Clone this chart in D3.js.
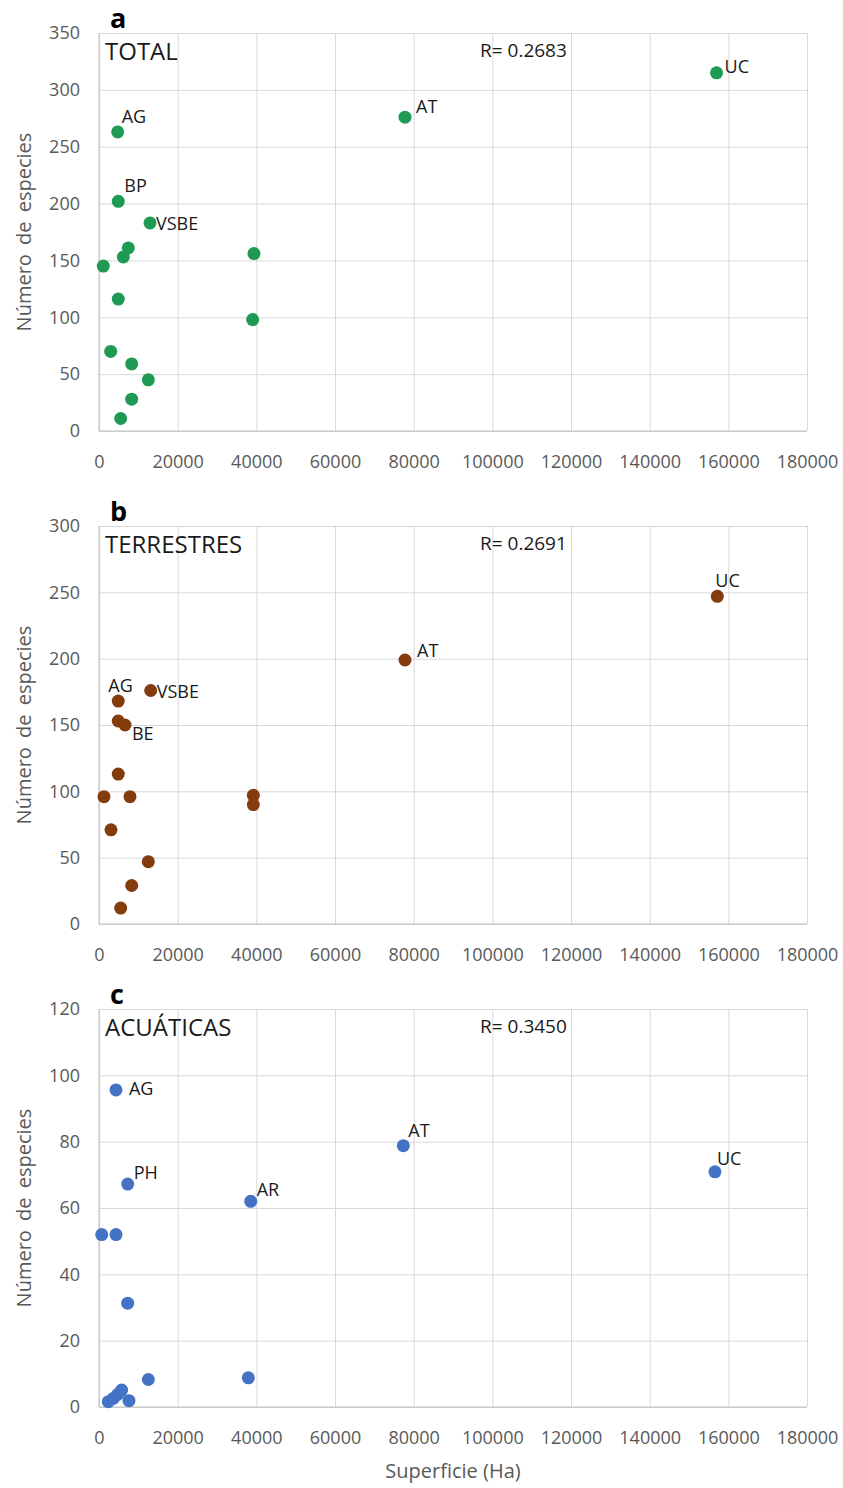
<!DOCTYPE html>
<html lang="es">
<head>
  <meta charset="UTF-8">
  <title>Superficie vs Número de especies</title>
  <script src="https://cdn.jsdelivr.net/npm/d3@7/dist/d3.min.js"></script>
<style>
body{
  margin: 0;
  background: #fff;
}
svg text{
  font-family: "Open Sans", "Noto Sans", sans-serif;
}
.tick text{
  fill: #595959;
  font-size: 18px;
}
.grid line{
  stroke: #d9d9d9;
  stroke-width: 1;
}
.grid .domain{
  display: none;
}
</style>
</head>
<body>
  <div id="grafico"></div>

  <script>
    // ---- datos ----
    var xTicks = [0, 20000, 40000, 60000, 80000, 100000, 120000, 140000, 160000, 180000];

    // a) TOTAL
    var totalSup = [4750, 4900, 12970, 7450, 6180, 1090, 39400, 4900, 39070, 2970, 8310, 12540, 8310, 5510, 77800, 157000];
    var totalEsp = [263, 202, 183, 161, 153, 145, 156, 116, 98, 70, 59, 45, 28, 11, 276, 315];
    var totalEtq = ["AG", "BP", "VSBE", "", "", "", "", "", "", "", "", "", "", "", "AT", "UC"];
    var totalYTicks = [0, 50, 100, 150, 200, 250, 300, 350];

    // b) TERRESTRES
    var terrSup = [77800, 157200, 4900, 13140, 4900, 6610, 4900, 1270, 7880, 39240, 39240, 3050, 12540, 8310, 5510];
    var terrEsp = [199, 247, 168, 176, 153, 150, 113, 96, 96, 97, 90, 71, 47, 29, 12];
    var terrEtq = ["AT", "UC", "AG", "VSBE", "", "BE", "", "", "", "", "", "", "", "", ""];
    var terrYTicks = [0, 50, 100, 150, 200, 250, 300];

    // c) ACUÁTICAS
    var acuaSup = [4320, 77370, 156600, 7290, 38570, 690, 4320, 7290, 12540, 37960, 2370, 3640, 4750, 5760, 7630];
    var acuaEsp = [95.6, 78.8, 70.9, 67.2, 62, 52, 52, 31.3, 8.3, 8.8, 1.6, 2.6, 3.8, 5.1, 1.9];
    var acuaEtq = ["AG", "AT", "UC", "PH", "AR", "", "", "", "", "", "", "", "", "", ""];
    var acuaYTicks = [0, 20, 40, 60, 80, 100, 120];

    var letras = ["a", "b", "c"];
    var titulos = ["TOTAL", "TERRESTRES", "ACUÁTICAS"];
    var coefR = ["R= 0.2683", "R= 0.2691", "R= 0.3450"];
    var colores = ["#1e9a55", "#843c0c", "#4472c4"];

    // ---- disposición ----
    var w = 843;
    var h = 1488;
    var izq = 99, der = 807;
    var altoPlot = 398;
    var topes = [33, 526, 1009];

    // desplazamiento de cada etiqueta respecto a su punto [dx, dy]
    var despA = {AG: [4, -9], BP: [6, -9], VSBE: [6, 7], AT: [11, -4], UC: [8, 0]};
    var despB = {AG: [-10, -9], VSBE: [6, 7], BE: [7, 15], AT: [12, -3], UC: [-2, -9]};
    var despC = {AG: [13, 5], PH: [6, -5], AR: [6, -5], AT: [5, -9], UC: [2, -7]};

    var paneles = [
      {sup: totalSup, esp: totalEsp, etq: totalEtq, yt: totalYTicks, desp: despA},
      {sup: terrSup, esp: terrEsp, etq: terrEtq, yt: terrYTicks, desp: despB},
      {sup: acuaSup, esp: acuaEsp, etq: acuaEtq, yt: acuaYTicks, desp: despC}
    ];

    var grafico = d3.select("#grafico")
      .append("svg")
      .attr("width", w)
      .attr("height", h);

    var xScale = d3.scaleLinear()
      .domain([0, 180000])
      .range([izq, der]);

    paneles.forEach(function(p, i){
      var top = topes[i];
      var bottom = top + altoPlot;
      var yMax = p.yt[p.yt.length - 1];

      var yScale = d3.scaleLinear()
        .domain([0, yMax])
        .range([bottom, top]);

      var g = grafico.append("g");

      // rejilla + eje Y
      g.append("g")
        .attr("class", "grid")
        .attr("transform", "translate(" + izq + ",0)")
        .call(d3.axisLeft(yScale).tickValues(p.yt).tickSize(-(der - izq)).tickPadding(19).tickFormat(d3.format("d")));

      // rejilla + eje X
      g.append("g")
        .attr("class", "grid")
        .attr("transform", "translate(0," + bottom + ")")
        .call(d3.axisBottom(xScale).tickValues(xTicks).tickSize(-altoPlot).tickPadding(24).tickFormat(d3.format("d")));

      // lineas de ejes
      g.append("line")
        .attr("x1", izq).attr("x2", der)
        .attr("y1", bottom).attr("y2", bottom)
        .attr("stroke", "#bfbfbf");
      g.append("line")
        .attr("x1", izq).attr("x2", izq)
        .attr("y1", top).attr("y2", bottom)
        .attr("stroke", "#bfbfbf");

      // titulo del eje Y
      g.append("text")
        .attr("transform", "translate(31," + (top + altoPlot / 2) + ") rotate(-90)")
        .attr("text-anchor", "middle")
        .style("font-size", "20px")
        .style("word-spacing", "4px")
        .attr("fill", "#595959")
        .text("Número de especies");

      // letra del panel
      g.append("text")
        .attr("x", 110)
        .attr("y", top - 5)
        .style("font-size", "27px")
        .style("font-weight", "bold")
        .attr("fill", "#000")
        .text(letras[i]);

      g.append("text")
        .attr("x", 105)
        .attr("y", top + 27)
        .style("font-size", "24px")
        .attr("fill", "#1a1a1a")
        .text(titulos[i]);

      g.append("text")
        .attr("x", 480)
        .attr("y", top + 24)
        .style("font-size", "19px")
        .attr("fill", "#1a1a1a")
        .text(coefR[i]);

      // puntos
      var puntos = p.sup.map(function(s, k){
        return {x: s, y: p.esp[k], etq: p.etq[k]};
      });

      g.selectAll("circle")
        .data(puntos)
        .enter()
        .append("circle")
        .attr("cx", function(d){ return xScale(d.x); })
        .attr("cy", function(d){ return yScale(d.y); })
        .attr("r", 6.5)
        .attr("fill", colores[i]);

      g.selectAll("text.etq")
        .data(puntos.filter(function(d){ return d.etq != ""; }))
        .enter()
        .append("text")
        .attr("class", "etq")
        .attr("x", function(d){ return xScale(d.x) + p.desp[d.etq][0]; })
        .attr("y", function(d){ return yScale(d.y) + p.desp[d.etq][1]; })
        .style("font-size", "18px")
        .attr("fill", "#1a1a1a")
        .text(function(d){ return d.etq; });
    });

    // titulo del eje X
    grafico.append("text")
      .attr("x", 453)
      .attr("y", 1478)
      .attr("text-anchor", "middle")
      .style("font-size", "20px")
      .attr("fill", "#595959")
      .text("Superficie (Ha)");
  </script>
</body>
</html>
